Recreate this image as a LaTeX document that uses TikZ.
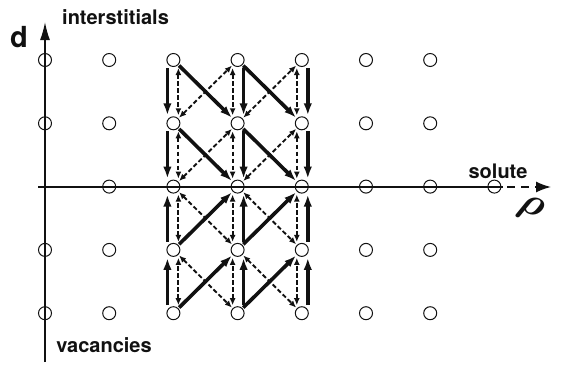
\documentclass[tikz,border=0pt]{standalone}
\usepackage{fontspec}
\setsansfont{TeX Gyre Heros}
\usepackage{amsmath,bm}
\usepackage{xcolor}
\usetikzlibrary{arrows.meta, positioning, calc}
\definecolor{ink}{HTML}{111111}
\tikzset{
    site/.style={circle, draw=ink, line width=1pt, minimum size=13pt, inner sep=0pt},
    jump/.style={-{Latex[length=12pt,width=8.5pt]}, line width=3.6pt, ink, shorten >=1pt, shorten <=1pt},
    swap/.style={{Latex[length=7pt,width=6pt]}-{Latex[length=7pt,width=6pt]}, line width=1.9pt, ink,
                 dash pattern=on 4.5pt off 2.5pt, shorten >=1pt, shorten <=1pt},
    axis/.style={line width=1.5pt, ink},
    lbl/.style={font=\sffamily\bfseries\fontsize{20}{20}\selectfont, text=ink, inner sep=1pt}
}
\begin{document}
\begin{tikzpicture}[x=1pt, y=-1pt]
        \useasboundingbox (0,0) rectangle (562,370);
        % axes
        \coordinate (dbot) at (45,362);
        \coordinate (dtop) at (45,22);
        \coordinate (sleft) at (38,187);
        \coordinate (send) at (503,187);
        \coordinate (stip) at (551,187);
        \draw[axis, -{Latex[length=18pt,width=10pt]}] (dbot) -- (dtop);
        \draw[axis] (sleft) -- (send);
        \draw[axis, dash pattern=on 8pt off 6pt, dash phase=-4pt, -{Latex[length=15pt,width=11pt]}] (send) -- (stip);
        % lattice sites
        \foreach \c in {0,...,6}
            \foreach \r in {0,1,3,4}
                \node[site] (n-\c-\r) at ({45+64.2*\c},{60+63.3*\r}) {};
        \foreach \c in {1,...,7}
            \node[site] (n-\c-2) at ({45+64.2*\c},{60+63.3*2}) {};
        % interstitial half
        \foreach \r/\s in {0/1,1/2} {
            \draw[jump] ([xshift=-6pt]n-2-\r.south) -- ([xshift=-6pt]n-2-\s.north);
            \draw[swap] ([xshift=5pt]n-2-\r.south) -- ([xshift=5pt]n-2-\s.north);
            \foreach \c in {3,4} {
                \draw[swap] ([xshift=-5pt]n-\c-\r.south) -- ([xshift=-5pt]n-\c-\s.north);
                \draw[jump] ([xshift=6pt]n-\c-\r.south) -- ([xshift=6pt]n-\c-\s.north);
            }
            \foreach \c/\d in {2/3,3/4} {
                \draw[jump] (n-\c-\r) -- (n-\d-\s);
                \draw[swap] (n-\c-\s) -- (n-\d-\r);
            }
        }
        % vacancy half
        \foreach \r/\s in {2/3,3/4} {
            \draw[jump] ([xshift=-6pt]n-2-\s.north) -- ([xshift=-6pt]n-2-\r.south);
            \draw[swap] ([xshift=5pt]n-2-\s.north) -- ([xshift=5pt]n-2-\r.south);
            \foreach \c in {3,4} {
                \draw[swap] ([xshift=-5pt]n-\c-\s.north) -- ([xshift=-5pt]n-\c-\r.south);
                \draw[jump] ([xshift=6pt]n-\c-\s.north) -- ([xshift=6pt]n-\c-\r.south);
            }
            \foreach \c/\d in {2/3,3/4} {
                \draw[jump] (n-\c-\s) -- (n-\d-\r);
                \draw[swap] (n-\c-\r) -- (n-\d-\s);
            }
        }
        % labels
        \node[lbl, font=\sffamily\bfseries\fontsize{29}{29}\selectfont] (dlab) at (19,37) {d};
        \node[lbl, anchor=base west] (ilab) at (61,24) {interstitials};
        \node[lbl] (slab) at (498,171) {solute};
        \node[lbl] (vlab) at (104,345) {vacancies};
        \node[text=ink, rotate=-25] (rlab) at (531,209) {\scalebox{4}{$\bm{\rho}$}};
\end{tikzpicture}
\end{document}
